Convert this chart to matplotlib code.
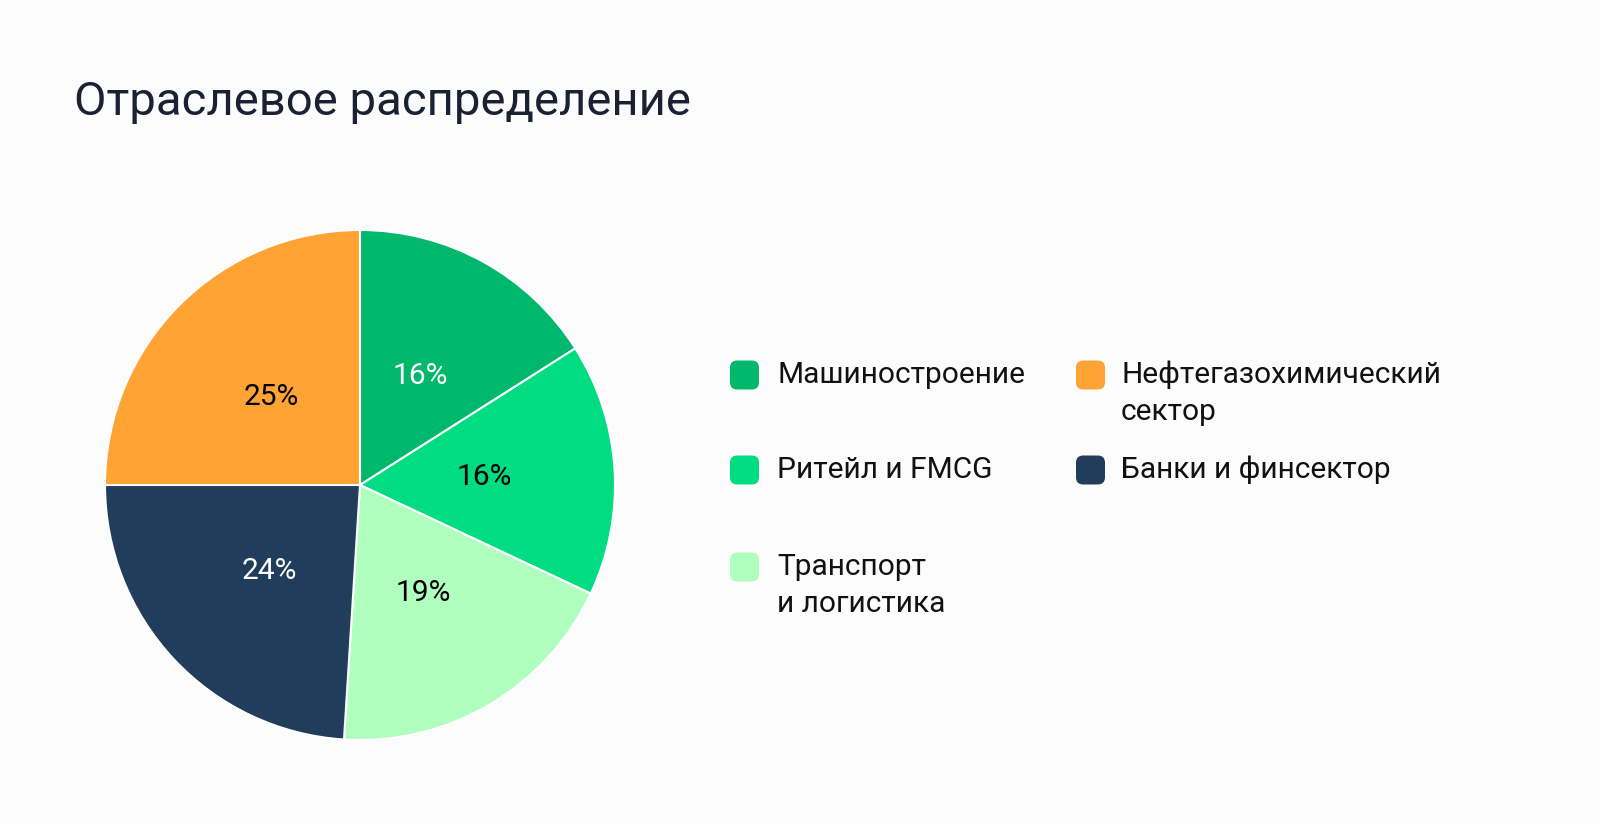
import matplotlib
matplotlib.use('Agg')
import matplotlib.pyplot as plt
from matplotlib.patches import FancyBboxPatch

plt.rcParams['font.family'] = ['Roboto', 'DejaVu Sans']

TITLE = "Отраслевое распределение"
labels = ["Машиностроение", "Ритейл и FMCG", "Транспорт\nи логистика",
          "Банки и финсектор", "Нефтегазохимический\nсектор"]
shares = [16, 16, 19, 24, 25]
colors = ['#00b86b', '#00dc82', '#b0ffbe', '#213d5c', '#ffa334']
text_colors = ['white', 'black', 'black', 'white', 'black']

# legend layout: (column, row) for each slice
legend_pos = [(0, 0), (0, 1), (0, 2), (1, 1), (1, 0)]

W, H = 1600, 824
BG = '#fcfcfd'
fig = plt.figure(figsize=(16, 8.24), dpi=100)
fig.patch.set_facecolor(BG)

fig.text(74 / W, 1 - 102 / H, TITLE, fontsize=34, color='#1c2033',
         va='center', ha='left')

# pie: center (360, 485), radius 255 px
ax = fig.add_axes([105 / W, (H - 740) / H, 510 / W, 510 / H])
ax.set_facecolor(BG)
wedges, _, autotexts = ax.pie(
    shares, colors=colors, startangle=90, counterclock=False,
    autopct=lambda p: f"{p:.0f}%", pctdistance=0.49,
    wedgeprops=dict(edgecolor='white', linewidth=1.5),
    textprops=dict(fontsize=21.5))
for t, c in zip(autotexts, text_colors):
    t.set_color(c)
ax.set_xlim(-1, 1)
ax.set_ylim(-1, 1)
ax.set_aspect('equal')

# manual legend
col_x = [730, 1076]
text_dx = [47, 45]
row_y = [375, 470, 567]
sq = 29
line_h = 37
for lab, col, (c, r) in zip(labels, colors, legend_pos):
    x0 = col_x[c]
    y0 = row_y[r]
    box = FancyBboxPatch((x0 / W, 1 - (y0 + sq / 2) / H),
                         sq / W, sq / H,
                         boxstyle="round,pad=0,rounding_size=0.0045",
                         transform=fig.transFigure, facecolor=col,
                         edgecolor='none', mutation_aspect=W / H)
    fig.patches.append(box)
    for i, line in enumerate(lab.split("\n")):
        fig.text((x0 + text_dx[c]) / W, 1 - (y0 + i * line_h) / H, line,
                 fontsize=21.5, color='#111111', va='center', ha='left')

fig.savefig('out.png', dpi=100, facecolor=BG)
